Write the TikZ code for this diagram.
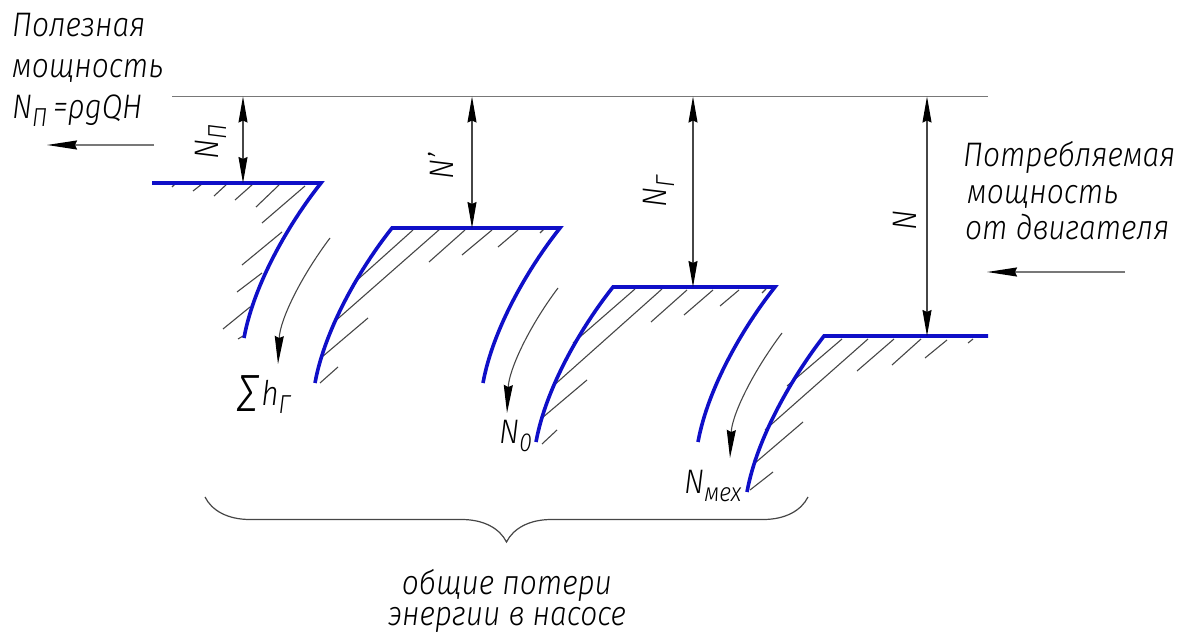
\documentclass[tikz,border=0pt]{standalone}
\usepackage{fontspec}
\setmainfont{Fira Sans Light Italic}[FakeStretch=0.88]
\usetikzlibrary{arrows.meta,decorations.pathreplacing}
\definecolor{shelfblue}{RGB}{15,15,200}
\definecolor{linegray}{RGB}{70,70,70}
\definecolor{topgray}{RGB}{120,120,120}
\newcommand\lsub[1]{\raisebox{-8pt}{\fontsize{26}{26}\selectfont #1}}
\newcommand\bigtext{\fontsize{34}{40}\selectfont}
\begin{document}
\begin{tikzpicture}[x=1pt,y=-1pt,
  shelf/.style={draw=shelfblue,line width=3.6pt,line join=miter},
  hatch/.style={draw=linegray,line width=1.1pt},
  topline/.style={draw=topgray,line width=1.4pt},
  dim/.style={draw=linegray,line width=1.2pt,{Stealth[length=26pt,width=9pt,inset=2pt,color=black]}-{Stealth[length=26pt,width=9pt,inset=2pt,color=black]}},
  flow/.style={draw=linegray,line width=1.1pt,-{Stealth[length=28pt,width=9pt,inset=2pt,color=black]}},
  sidearrow/.style={draw=topgray,line width=1.4pt,-{Stealth[length=30pt,width=9pt,inset=2pt,color=black]}},
  bracestyle/.style={draw=linegray,line width=1.2pt,decorate,decoration={brace,amplitude=45pt}},
  lbl/.style={inner sep=0pt,font=\bigtext,text=black},
  dimlbl/.style={lbl,rotate=90},
]
\useasboundingbox (0,0) rectangle (1188,636);

% top reference line
\coordinate (topL) at (172,96.5);
\coordinate (topR) at (988,96.5);
\draw[topline] (topL) -- (topR);

% hatching
\foreach \a/\b/\c/\d in {
  172/187/175/184, 193/191/202/184, 214/196/227/184, 235/200/253/184,
  256/207/279/185, 262/223/305/186, 242/265/282/232, 237/292/262/273,
  223/329/250/307, 238/339/243/336,
  355/282/413/230, 333/323/440/229, 322/357/368/318, 320/383/338/367,
  429/262/465/230, 462/255/492/230, 498/247/518/230, 540/233/544/229,
  573/343/635/289, 552/387/662/289, 542/418/587/380, 542/444/557/430,
  651/322/687/290, 684/315/713/290, 720/306/739/290, 762/293/766/289,
  787/386/842/339, 765/430/868/339, 755/463/803/422, 750/490/773/472,
  857/371/894/339, 892/365/921/339, 925/358/947/340, 968/343/973/339}
  \draw[hatch] (\a,\b) -- (\c,\d);

% shelves
\draw[shelf] (152,183) -- (321,183) .. controls (290,222) and (254,283) .. (244,338);
\draw[shelf] (315,383) .. controls (325,328) and (361,267) .. (392,228) -- (560,228)
  .. controls (529,267) and (493,328) .. (483,383);
\draw[shelf] (536,442) .. controls (546,387) and (582,326) .. (613,287) -- (775,287)
  .. controls (744,326) and (708,387) .. (698,442);
\draw[shelf] (747,492) .. controls (757,437) and (793,376) .. (824,336) -- (988,336);

% dimension arrows
\coordinate (d1t) at (243,96.5); \coordinate (d1b) at (243,183);
\coordinate (d2t) at (472,96.5); \coordinate (d2b) at (472,228);
\coordinate (d3t) at (693,96.5); \coordinate (d3b) at (693,287);
\coordinate (d4t) at (927,96.5); \coordinate (d4b) at (927,336);
\draw[dim] (d1t) -- (d1b);
\draw[dim] (d2t) -- (d2b);
\draw[dim] (d3t) -- (d3b);
\draw[dim] (d4t) -- (d4b);
\node[dimlbl] (lNp) at (211,142) {N\lsub{П}};
\node[dimlbl] (lN1) at (441,166) {N'};
\node[dimlbl] (lNg) at (659,192) {N\lsub{Г}};
\node[dimlbl] (lN) at (905,220) {N};

% flow arrows
\coordinate (f1s) at (330,238); \coordinate (f1e) at (278,364);
\coordinate (f2s) at (558,288); \coordinate (f2e) at (507,413);
\coordinate (f3s) at (782,333); \coordinate (f3e) at (730,458);
\draw[flow] (f1s) .. controls (300,278) and (280,320) .. (f1e);
\draw[flow] (f2s) .. controls (528,328) and (509,370) .. (f2e);
\draw[flow] (f3s) .. controls (752,373) and (732,415) .. (f3e);
\node[lbl,anchor=base west] (sumh) at (236,405) {\raisebox{-6pt}{\fontsize{54}{54}\selectfont ∑}\kern2pt h\lsub{Г}};
\node[lbl,anchor=base west] (nzero) at (499,443) {N\lsub{0}};
\node[lbl,anchor=base west] (nmex) at (684,493) {N\lsub{мех}};

% left text and arrow
\node[lbl,anchor=base west] (lt1) at (12,37) {Полезная};
\node[lbl,anchor=base west] (lt2) at (12,78) {мощность};
\node[lbl,anchor=base west] (lt3) at (12,119) {N\lsub{П}\,=ρgQH};
\coordinate (la1) at (154,145); \coordinate (la2) at (47,145);
\draw[sidearrow] (la1) -- (la2);

% right text and arrow
\node[lbl,anchor=base west] (rt1) at (963,167) {Потребляемая};
\node[lbl,anchor=base west] (rt2) at (967,204) {мощность};
\node[lbl,anchor=base west] (rt3) at (965,240) {от двигателя};
\coordinate (ra1) at (1125,272); \coordinate (ra2) at (987,272);
\draw[sidearrow] (ra1) -- (ra2);

% brace and bottom text
\coordinate (brR) at (808,497); \coordinate (brL) at (205,497);
\draw[bracestyle] (brR) -- (brL);
\node[lbl,anchor=base] (bt1) at (507,594) {общие потери};
\node[lbl,anchor=base] (bt2) at (507,625) {энергии в насосе};
\end{tikzpicture}
\end{document}
